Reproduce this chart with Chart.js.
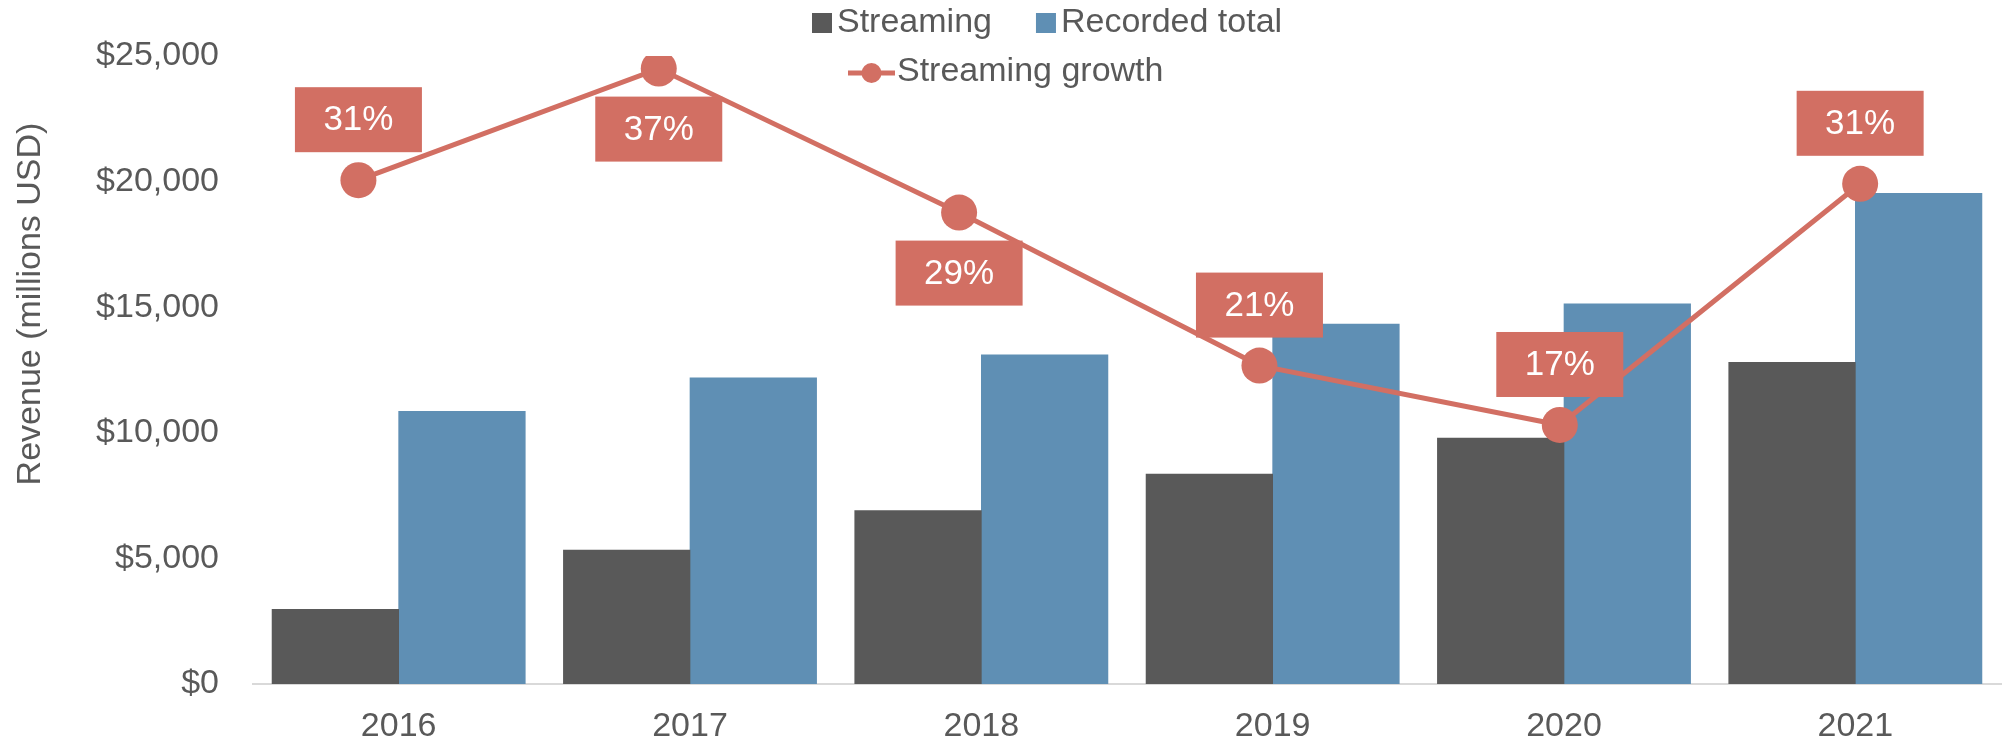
<!DOCTYPE html>
<html lang="en">
<head>
    <meta charset="UTF-8">
    <title>Streaming vs recorded music revenue</title>
    <script src="https://cdn.jsdelivr.net/npm/chart.js"></script>
    <style>
        html, body { margin: 0; padding: 0; background: #fff; overflow: hidden; }
        #wrap { position: relative; width: 2006px; height: 745px; }
        #wrap canvas { display: block; }
    </style>
</head>
<body>
    <div id="wrap"><canvas id="revenue-chart"></canvas></div>

    <script>
        // Values
        const years = ['2016', '2017', '2018', '2019', '2020', '2021'];
        const streaming = [2970, 5330, 6900, 8360, 9790, 12810];
        const recordedTotal = [10850, 12190, 13100, 14330, 15130, 19530];
        const streamingGrowth = [30.9, 37.1, 29.1, 20.6, 17.3, 30.7]; // percent
        const growthLabelSide = ['above', 'below', 'below', 'above', 'above', 'above'];

        const FONT = '"Liberation Sans", Arial, Helvetica, sans-serif';
        const GRAY_TEXT = '#595959';
        const DARK = '#595959';
        const BLUE = '#5F8FB4';
        const RED = '#D26F63';

        // Red boxes with the growth percentage, drawn over the line
        const growthLabels = {
            id: 'growthLabels',
            afterDatasetsDraw(chart) {
                const idx = chart.data.datasets.findIndex(d => d.type === 'line');
                const meta = chart.getDatasetMeta(idx);
                const ctx = chart.ctx;
                const w = 127, h = 65, gap = 28;
                ctx.save();
                ctx.font = '35px ' + FONT;
                ctx.textAlign = 'center';
                ctx.textBaseline = 'middle';
                meta.data.forEach((pt, i) => {
                    const cy = growthLabelSide[i] === 'above' ? pt.y - gap - h / 2 : pt.y + gap + h / 2;
                    ctx.fillStyle = RED;
                    ctx.fillRect(pt.x - w / 2, cy - h / 2, w, h);
                    ctx.fillStyle = '#fff';
                    ctx.fillText(Math.round(streamingGrowth[i]) + '%', pt.x, cy + 1);
                });
                ctx.restore();
            }
        };

        // Y axis title sits a bit above the middle in the original
        const yTitle = {
            id: 'yTitle',
            afterDraw(chart) {
                const ctx = chart.ctx;
                ctx.save();
                ctx.translate(31, 304);
                ctx.rotate(-Math.PI / 2);
                ctx.font = '34px ' + FONT;
                ctx.fillStyle = GRAY_TEXT;
                ctx.textAlign = 'center';
                ctx.textBaseline = 'middle';
                ctx.fillText('Revenue (millions USD)', 0, 0);
                ctx.restore();
            }
        };

        // Two-row legend laid over the top of the plot, Excel style
        const topLegend = {
            id: 'topLegend',
            afterDraw(chart) {
                const ctx = chart.ctx;
                const sets = chart.data.datasets;
                const bars = sets.filter(d => d.type === 'bar');
                const line = sets.find(d => d.type === 'line');
                ctx.save();
                ctx.font = '34px ' + FONT;
                ctx.textBaseline = 'middle';

                let x = 812;
                const row1 = 23;
                bars.forEach(d => {
                    ctx.fillStyle = d.backgroundColor;
                    ctx.fillRect(x, row1 - 10, 20, 20);
                    ctx.fillStyle = GRAY_TEXT;
                    ctx.fillText(d.label, x + 25, row1);
                    x += 25 + ctx.measureText(d.label).width + 44;
                });

                const row2 = 72;
                x = 848;
                ctx.strokeStyle = line.borderColor;
                ctx.lineWidth = 5;
                ctx.beginPath();
                ctx.moveTo(x, row2 + 1);
                ctx.lineTo(x + 47, row2 + 1);
                ctx.stroke();
                ctx.fillStyle = line.borderColor;
                ctx.beginPath();
                ctx.arc(x + 23.5, row2 + 1, 10, 0, Math.PI * 2);
                ctx.fill();
                ctx.fillStyle = GRAY_TEXT;
                ctx.fillText(line.label, x + 49, row2);
                ctx.restore();
            }
        };

        new Chart(document.getElementById('revenue-chart'), {
            type: 'bar',
            data: {
                labels: years,
                datasets: [
                    {
                        type: 'line',
                        label: 'Streaming growth',
                        data: streamingGrowth,
                        xAxisID: 'xLine',
                        yAxisID: 'yLine',
                        borderColor: RED,
                        backgroundColor: RED,
                        borderWidth: 5,
                        pointRadius: 18,
                        pointHoverRadius: 18,
                        pointBackgroundColor: RED,
                        pointBorderWidth: 0,
                        tension: 0,
                        fill: false,
                        order: 0
                    },
                    {
                        type: 'bar',
                        label: 'Streaming',
                        data: streaming,
                        backgroundColor: DARK,
                        order: 1
                    },
                    {
                        type: 'bar',
                        label: 'Recorded total',
                        data: recordedTotal,
                        backgroundColor: BLUE,
                        order: 1
                    }
                ]
            },
            options: {
                responsive: true,
                maintainAspectRatio: false,
                animation: false,
                layout: { autoPadding: false, padding: { top: 56, right: 5, bottom: 0, left: 0 } },
                datasets: {
                    bar: { barThickness: 126.6 }
                },
                plugins: {
                    legend: { display: false },
                    tooltip: { enabled: false }
                },
                scales: {
                    x: {
                        offset: true,
                        grid: { display: false, drawTicks: false },
                        border: { color: '#d9d9d9', width: 2 },
                        ticks: { color: GRAY_TEXT, font: { family: FONT, size: 34 }, padding: 22 },
                        afterFit(scale) { scale.height = 61; }
                    },
                    y: {
                        min: 0,
                        max: 25000,
                        grid: { display: false, drawTicks: false },
                        border: { display: false },
                        ticks: {
                            stepSize: 5000,
                            padding: 34,
                            color: GRAY_TEXT,
                            font: { family: FONT, size: 34 },
                            callback: v => '$' + v.toLocaleString('en-US')
                        },
                        afterFit(scale) { scale.width = 253; }
                    },
                    // the growth line sits on its own hidden axes, as in the Excel original
                    xLine: {
                        type: 'linear', display: false, offset: false,
                        grid: { offset: false }, bounds: 'data',
                        min: 2015.649, max: 2021.469
                    },
                    yLine: { type: 'linear', display: false, bounds: 'data', min: 2.91, max: 37.8 }
                }
            },
            plugins: [growthLabels, yTitle, topLegend]
        });
    </script>
</body>
</html>
